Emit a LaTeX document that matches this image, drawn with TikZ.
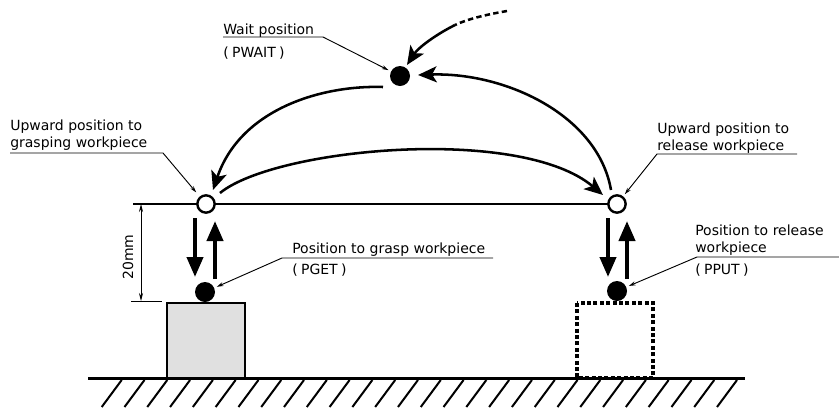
\documentclass[tikz,border=0pt]{standalone}
\usepackage{fontspec}
\setmainfont{DejaVu Sans}
\usepackage{tikz}
\usetikzlibrary{
  calc,          % Offsets from the dots: ($(ul)+(14,-11)$)
  arrows.meta    % Stealth and Triangle tips
}
\definecolor{boxgray}{gray}{0.88}
\newcommand{\posname}[1]{(\kern2.5pt#1\kern2.5pt)}

\begin{document}
\begin{tikzpicture}[x=0.75pt, y=-0.75pt,
    lbl/.style={font=\fontsize{10.5}{12.75}\selectfont, anchor=base west, align=left, inner sep=0pt},
    hollow/.style={circle, draw, line width=1.8pt, fill=white, minimum size=13pt, inner sep=0pt},
    fulldot/.style={circle, fill, minimum size=15pt, inner sep=0pt},
    path arc/.style={line width=1.9pt, -{Stealth[length=14pt,width=12pt,inset=3.5pt]}},
    lift/.style={line width=3pt, -{Triangle[length=15pt,width=12pt]}},
    leader/.style={line width=0.7pt, -{Stealth[length=5pt,width=3pt]}, shorten >=2pt},
    hatch/.style={line width=1.5pt}]
        \useasboundingbox (0,0) rectangle (839,408);

        % Reference line through the upward positions
        \coordinate (ul pos) at (206,204);
        \coordinate (ur pos) at (617,204);
        \draw[line width=1.1pt] (133,204) -- (ur pos);

        % Positions
        \node[hollow] (ul) at (ul pos) {};
        \node[hollow] (ur) at (ur pos) {};
        \node[fulldot] (pwait) at (400,76) {};
        \node[fulldot] (pget) at (205,292) {};
        \node[fulldot] (pput) at (617,291) {};

        % Workpiece and place to put it
        \draw[line width=2pt, fill=boxgray] (167,303) rectangle (245,378);
        \draw[line width=2.4pt, dash pattern=on 3pt off 1.8pt] (577,303) rectangle (653,378);

        % Floor with hatching
        \draw[line width=2.25pt] (88,378) -- (745,378);
        \foreach \i in {0,...,27}
            \draw[hatch] ({121.7+22.79*\i},380) -- ++(-20,27);

        % Moves between the positions
        \draw[path arc] ($(pwait)+(-17,11)$) .. controls (320,85) and (240,110) .. ($(ul)+(7,-14)$);
        \draw[path arc] ($(ul)+(14,-11)$) .. controls (275,148) and (520,125) .. ($(ur)+(-14,-9)$);
        \draw[path arc] ($(ur)+(-6,-14)$) .. controls (598,115) and (505,72) .. ($(pwait)+(18,-1)$);

        % Move coming in from outside
        \coordinate (incoming) at (507,11);
        \coordinate (incoming mid) at (455,25);
        \draw[line width=1.9pt, dash pattern=on 4pt off 2.5pt] (incoming) .. controls (490,14) and (470,18) .. (incoming mid);
        \draw[path arc] (incoming mid) .. controls (435,35) and (418,48) .. ($(pwait)+(7,-11)$);

        % Down and up at the grasp and release points
        \draw[lift] ($(ul)+(-11,14)$) -- ($(pget)+(-10,-15)$);
        \draw[lift] ($(pget)+(10,-13)$) -- ($(ul)+(9,17)$);
        \draw[lift] ($(ur)+(-9,14)$) -- ($(pput)+(-9,-14)$);
        \draw[lift] ($(pput)+(10,-12)$) -- ($(ur)+(10,17)$);

        % 20mm dimension
        \draw[line width=0.6pt] (131,301) -- (162,301);
        \draw[line width=0.6pt, {Stealth[length=6pt,width=3pt]}-{Stealth[length=6pt,width=3pt]}] (141,204) -- (141,301);
        \node[lbl, anchor=center, rotate=90] (dim) at (128,257) {20mm};

        % Labels with leader lines (base = last line)
        \node[lbl] (wait lbl) at (223,57) {Wait position\\[4.5pt]\posname{PWAIT}};
        \draw[leader] ($(wait lbl.base west)+(0,-20)$) -- ++(100,0) -- (pwait);

        \node[lbl] (grasp up lbl) at (10,147) {Upward position to\\grasping workpiece};
        \draw[leader, shorten >=4pt] ($(grasp up lbl.base west)+(0,6)$) -- ++(153,0) -- (ul);

        \node[lbl] (release up lbl) at (657,150) {Upward position to\\release workpiece};
        \draw[leader] ($(release up lbl.base west)+(140,4)$) -- ++(-140,0) -- (ur);

        \node[lbl] (pget lbl) at (292,274) {Position to grasp workpiece\\[3pt]\posname{PGET}};
        \draw[leader] ($(pget lbl.base west)+(201,-16)$) -- ++(-211,0) -- (pget);

        \node[lbl] (pput lbl) at (695,274) {Position to release\\workpiece\\[3.5pt]\posname{PPUT}};
        \draw[leader] ($(pput lbl.base west)+(144,-17)$) -- ++(-142,0) -- (pput);
    \end{tikzpicture}
\end{document}
